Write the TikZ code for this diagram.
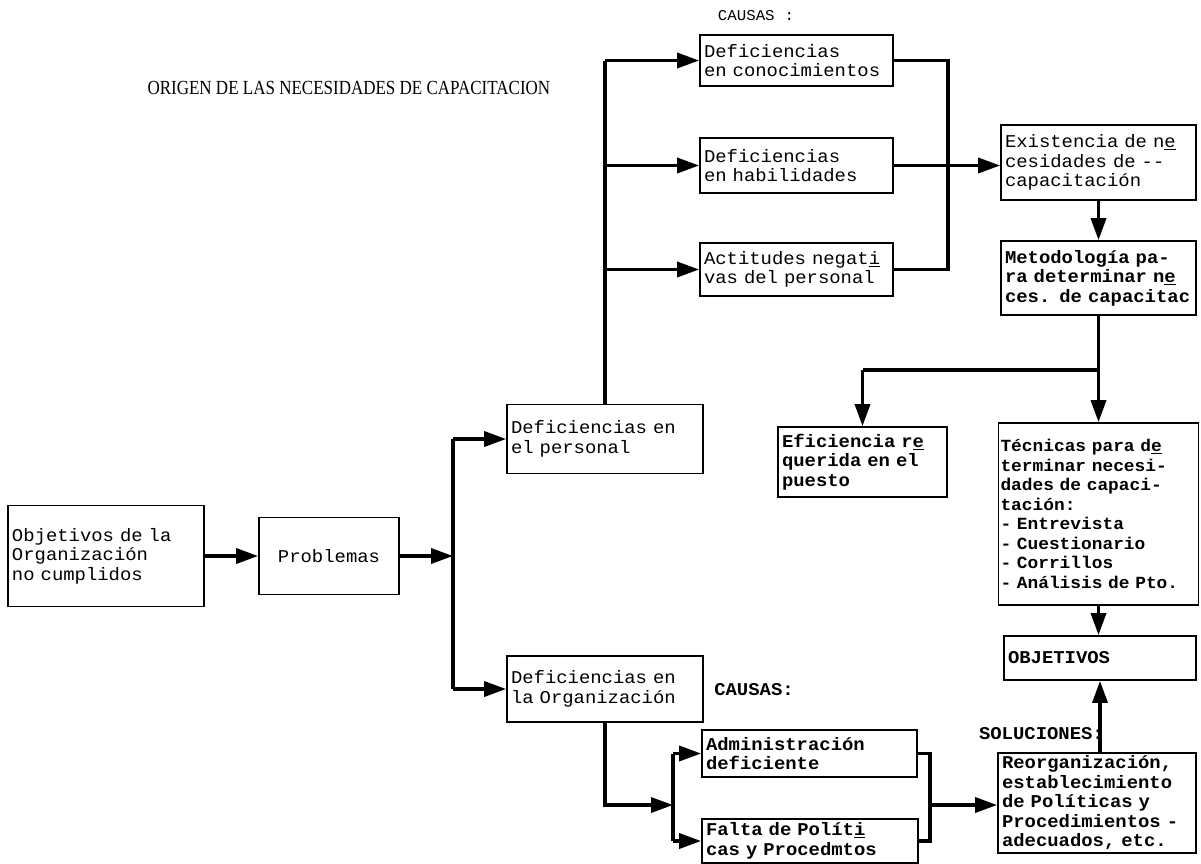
\documentclass[tikz,border=0pt]{standalone}
\usepackage{fontspec}
\setmainfont{Liberation Serif}
\setmonofont{Liberation Mono}[FakeStretch=1.05]
\newfontfamily\titulofont{Liberation Serif}[FakeStretch=0.85]
\newcommand\maq[1]{\ttfamily\fontsize{#1}{19.5}\selectfont\spaceskip=.66em\relax}
\usetikzlibrary{arrows.meta}

\begin{document}
\begin{tikzpicture}[x=1pt,y=-1pt,font=\maq{18},
  bx/.style={draw,line width=1.7pt,inner xsep=4pt,inner ysep=1pt,align=left},
  hv/.style={font=\maq{18}\bfseries},
  wire/.style={line width=3.4pt},
  arr/.style={wire,-{Triangle[length=22pt,width=15pt]}}]
  \useasboundingbox (0,0) rectangle (1201,863);
  \node[font=\titulofont\fontsize{20}{24}\selectfont,anchor=west] (titulo) at (144,88) {ORIGEN DE LAS NECESIDADES DE CAPACITACION};
  \node[font=\maq{15}] (causasa) at (756,16) {CAUSAS :};
  \node[hv] (causasb) at (754,690) {CAUSAS:};
  \node[hv,anchor=east,inner sep=0pt] (soluc) at (1104,734) {SOLUCIONES:};

  \node[bx,text width=188pt,minimum height=101pt] (obj) at (106,556) {Objetivos de la\\Organización\\no cumplidos};
  \node[bx,text width=132pt,minimum height=77pt,align=center] (prob) at (329,556) {Problemas};
  \node[bx,text width=188pt,minimum height=69pt] (defper) at (605,439) {Deficiencias en\\el personal};
  \node[bx,text width=188pt,minimum height=66pt] (deforg) at (605,689) {Deficiencias en\\la Organización};
  \node[bx,text width=185pt,minimum height=51pt] (conoc) at (796.5,60.5) {Deficiencias\\en conocimientos};
  \node[bx,text width=185pt,minimum height=55pt] (habil) at (796.5,165.5) {Deficiencias\\en habilidades};
  \node[bx,text width=185pt,minimum height=53pt] (actit) at (796.5,269.5) {Actitudes negat\underline{i}\\vas del personal};
  \node[bx,text width=187pt,minimum height=75pt] (exist) at (1098.5,162.5) {Existencia de n\underline{e}\\cesidades de --\\capacitación};
  \node[bx,hv,text width=187pt,minimum height=74pt] (metod) at (1098.5,278) {Metodología pa-\\ra determinar n\underline{e}\\ces. de capacitac};
  \node[bx,hv,text width=161pt,minimum height=70pt] (efic) at (862.5,462) {Eficiencia r\underline{e}\\querida en el\\puesto};
  \node[bx,font=\maq{17}\bfseries,text width=196pt,inner xsep=2pt,minimum height=182pt] (tecn) at (1098.5,514) {Técnicas para d\underline{e}\\terminar necesi-\\dades de capaci-\\tación:\\- Entrevista\\- Cuestionario\\- Corrillos\\- Análisis de Pto.};
  \node[bx,hv,text width=184pt,minimum height=44pt] (objetivos) at (1100,658) {OBJETIVOS};
  \node[bx,hv,text width=190pt,minimum height=100pt] (reorg) at (1097,803) {Reorganización,\\establecimiento\\de Políticas y\\Procedimientos -\\adecuados, etc.};
  \node[bx,hv,text width=207pt,minimum height=47pt] (admin) at (809.5,753.5) {Administración\\deficiente};
  \node[bx,hv,text width=208pt,minimum height=44pt] (falta) at (810,841) {Falta de Polít\underline{i}\\cas y Procedmtos};

  \coordinate (ja) at (453,556);
  \coordinate (jc) at (948,0);
  \coordinate (jd) at (0,370);
  \coordinate (je) at (673,805);
  \coordinate (jf) at (930,0);

  \draw[arr] (obj) -- (prob);
  \draw[arr] (prob) -- (ja);
  \draw[wire] (defper.west -| ja) -- (deforg.west -| ja);
  \draw[arr] (defper.west -| ja) -- (defper.west);
  \draw[arr] (deforg.west -| ja) -- (deforg.west);
  \draw[wire] (defper.north) -- (defper.north |- conoc.west);
  \foreach \n in {conoc,habil,actit}
    \draw[arr] (defper.north |- \n.west) -- (\n.west);
  \draw[wire] (conoc.east) -- (conoc.east -| jc) -- (actit.east -| jc) -- (actit.east);
  \draw[arr] (habil.east) -- (habil.east -| exist.west);
  \draw[arr] (exist) -- (metod);
  \draw[wire] (metod.south) -- (metod.south |- jd) -- (efic.north |- jd);
  \draw[arr] (efic.north |- jd) -- (efic.north);
  \draw[arr] (metod.south |- jd) -- (tecn.north);
  \draw[arr] (tecn.south) -- (tecn.south |- objetivos.north);
  \draw[arr] (objetivos.south |- reorg.north) -- (objetivos.south);
  \draw[arr] (deforg.south) |- (je);
  \draw[wire] (je |- admin.west) -- (je |- falta.west);
  \draw[arr] (je |- admin.west) -- (admin.west);
  \draw[arr] (je |- falta.west) -- (falta.west);
  \draw[wire] (admin.east) -- (admin.east -| jf) -- (falta.east -| jf) -- (falta.east);
  \draw[arr] (je -| jf) -- (je -| reorg.west);
\end{tikzpicture}
\end{document}
